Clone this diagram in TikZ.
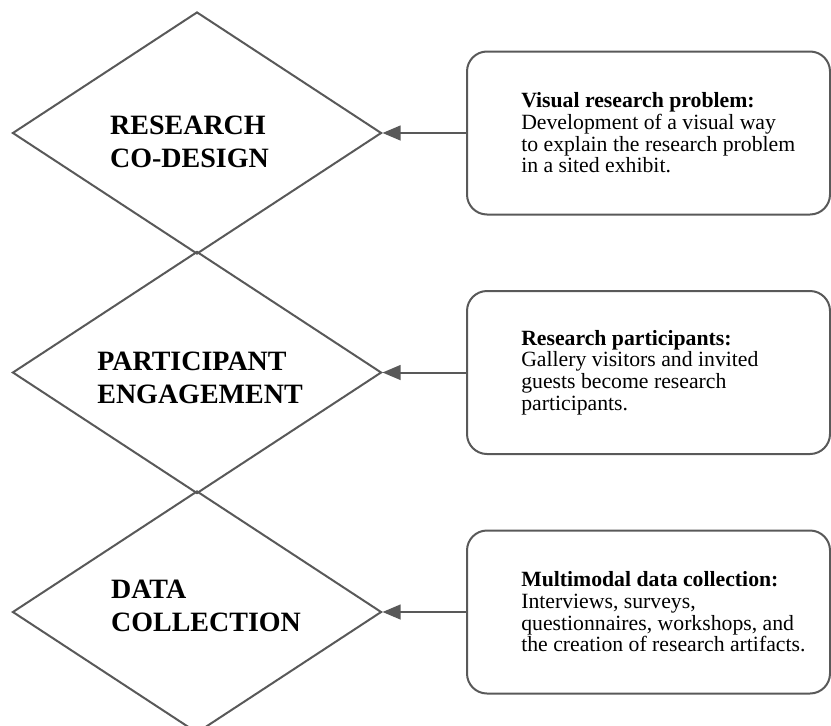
\documentclass[tikz,border=0pt]{standalone}
\usepackage{fontspec}
\setmainfont{Liberation Serif}
\usetikzlibrary{shapes.geometric,arrows.meta,positioning}
\definecolor{edgegray}{HTML}{595959}
\begin{document}
\begin{tikzpicture}[x=0.75pt, y=-0.75pt,
	stage/.style={diamond, draw=edgegray, line width=1.5pt, minimum width=276.75pt, minimum height=181.5pt, inner sep=0pt},
	stagetext/.style={align=left, inner sep=0pt, font=\fontsize{21}{24.75}\selectfont\bfseries},
	infobox/.style={draw=edgegray, line width=1.5pt, rounded corners=15pt, minimum width=272.25pt, minimum height=122.25pt},
	infotext/.style={align=left, inner sep=0pt, font=\fontsize{16.3}{16.3}\selectfont},
	feed/.style={-{Triangle[length=13.5pt, width=11pt]}, draw=edgegray, line width=1.5pt}]
	\useasboundingbox (0,0) rectangle (831,725);
	\foreach \n/\y/\dx/\dy/\title/\infohead/\infobody in {
		1/133/-7.5/9/{RESEARCH\\CO-DESIGN}/{Visual research problem:}/{Development of a visual way\\to explain the research problem\\in a sited exhibit.},
		2/372.5/3/5/{PARTICIPANT\\ENGAGEMENT}/{Research participants:}/{Gallery visitors and invited\\guests become research\\participants.},
		3/612/9/-6/{DATA\\COLLECTION}/{Multimodal data collection:}/{Interviews, surveys,\\questionnaires, workshops, and\\the creation of research artifacts.}}
	{
		\node[stage] (stage\n) at (197,\y) {};
		\node[stagetext] (title\n) at ([shift={(\dx,\dy)}]stage\n.center) {\title};
		\node[infobox] (box\n) at (648.5,\y) {};
		\node[infotext, anchor=west] (info\n) at ([xshift=41.25pt]box\n.west) {\textbf{\infohead}\\\infobody};
		\draw[feed] (box\n) -- (stage\n.east);
	}
\end{tikzpicture}
\end{document}
